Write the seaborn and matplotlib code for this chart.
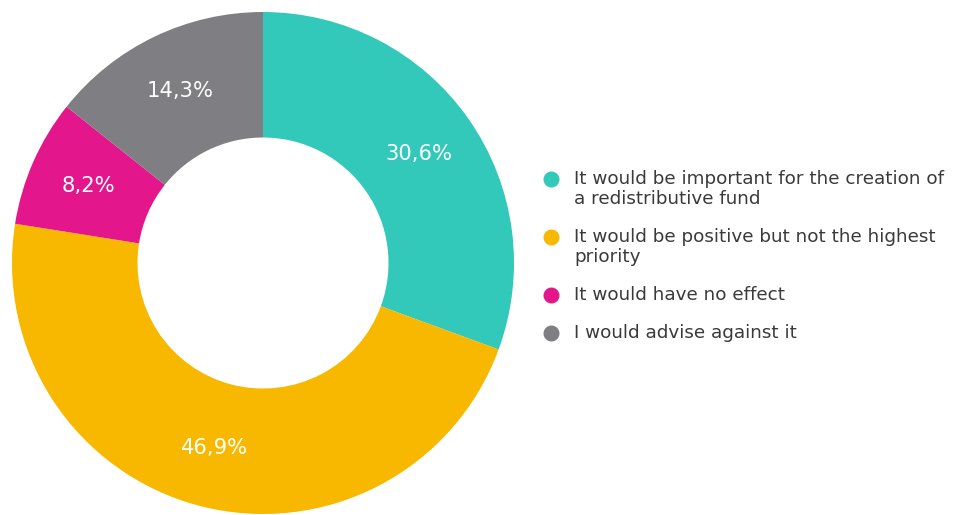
import matplotlib
matplotlib.use("Agg")
import matplotlib.pyplot as plt
import seaborn as sns

# Survey answers and their shares (%)
categories = [
    "It would be important for the creation of\na redistributive fund",
    "It would be positive but not the highest\npriority",
    "It would have no effect",
    "I would advise against it",
]
shares = [30.6, 46.9, 8.2, 14.3]
share_labels = ["30,6%", "46,9%", "8,2%", "14,3%"]
colors = ["#32C8BA", "#F8B800", "#E4168C", "#7F7E82"]

sns.set_theme(style="white")
plt.rcParams["font.family"] = ["DejaVu Sans"]

W, H = 960, 515
fig = plt.figure(figsize=(W / 100, H / 100), dpi=100)

# Square axes holding the donut, placed in pixel terms
cx, cy, R = 263, 263, 251
ax = fig.add_axes([(cx - R) / W, (H - cy - R) / H, 2 * R / W, 2 * R / H])

wedges, texts = ax.pie(
    shares,
    colors=colors,
    startangle=90,
    counterclock=False,
    radius=1.0,
    labels=share_labels,
    labeldistance=0.76,
    wedgeprops=dict(width=0.5, linewidth=0),
    textprops=dict(color="white", fontsize=15.2, ha="center", va="center"),
)
ax.set_xlim(-1, 1)
ax.set_ylim(-1, 1)
ax.set_aspect("equal")
ax.axis("off")

# Legend: coloured dots with wrapped labels to the right of the donut
dot_x = 551
text_x = 574
dot_ys = [179, 237, 295, 333]
line_gap = 20
for col, label, y in zip(colors, categories, dot_ys):
    fig.add_artist(
        plt.Line2D([dot_x / W], [1 - y / H], marker="o", markersize=10.5,
                   color=col, linestyle="none", transform=fig.transFigure)
    )
    for i, line in enumerate(label.split("\n")):
        fig.text(text_x / W, 1 - (y + i * line_gap) / H, line,
                 fontsize=13.2, color="#3a3a3a", ha="left", va="center")

fig.savefig("out.png", dpi=100, facecolor="white")
